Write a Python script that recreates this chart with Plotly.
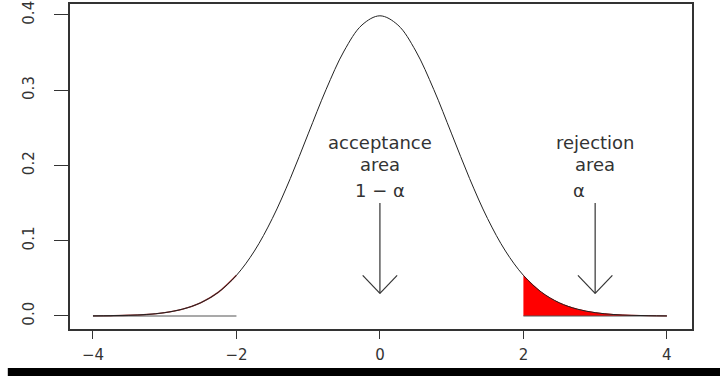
import plotly.graph_objects as go

# standard normal density at 0.25 steps
x_vals = [-4.0, -3.75, -3.5, -3.25, -3.0, -2.75, -2.5, -2.25, -2.0, -1.75, -1.5, -1.25, -1.0,
          -0.75, -0.5, -0.25, 0.0, 0.25, 0.5, 0.75, 1.0, 1.25, 1.5, 1.75, 2.0, 2.25, 2.5,
          2.75, 3.0, 3.25, 3.5, 3.75, 4.0]
density = [0.0001, 0.0004, 0.0009, 0.002, 0.0044, 0.0091, 0.0175, 0.0317, 0.054, 0.0863,
           0.1295, 0.1826, 0.242, 0.3011, 0.3521, 0.3867, 0.3989, 0.3867, 0.3521, 0.3011,
           0.242, 0.1826, 0.1295, 0.0863, 0.054, 0.0317, 0.0175, 0.0091, 0.0044, 0.002,
           0.0009, 0.0004, 0.0001]

x_ticks = [-4, -2, 0, 2, 4]
y_ticks = [0.0, 0.1, 0.2, 0.3, 0.4]
y_tick_text = ["0.0", "0.1", "0.2", "0.3", "0.4"]

crit = 2.0
tail_x = [x for x in x_vals if x >= crit]
tail_y = [d for x, d in zip(x_vals, density) if x >= crit]
low_x = [x for x in x_vals if x <= -crit]
low_y = [d for x, d in zip(x_vals, density) if x <= -crit]

fig = go.Figure()

# rejection area (upper tail)
fig.add_trace(go.Scatter(x=tail_x, y=tail_y, mode='lines', fill='tozeroy',
                         fillcolor='#ff0000', line=dict(color='#ff0000', width=1, shape='spline'),
                         hoverinfo='skip'))
# lower tail outline, faint red
fig.add_trace(go.Scatter(x=low_x, y=low_y, mode='lines',
                         line=dict(color='#a03030', width=1.4, shape='spline'), hoverinfo='skip'))
# baselines under the tails
fig.add_trace(go.Scatter(x=[low_x[0], low_x[-1]], y=[0, 0], mode='lines',
                         line=dict(color='#555555', width=1.2), hoverinfo='skip'))
fig.add_trace(go.Scatter(x=[tail_x[0], tail_x[-1]], y=[0, 0], mode='lines',
                         line=dict(color='#555555', width=1.2), hoverinfo='skip'))
# density curve
fig.add_trace(go.Scatter(x=x_vals, y=density, mode='lines',
                         line=dict(color='#222222', width=1, shape='spline'), hoverinfo='skip'))

# open-V arrows like R's arrows()
def arrow(x, top, tip, dx=0.24, dy=0.024):
    s = dict(type='line', xref='x', yref='y', line=dict(color='#333333', width=1.2))
    return [dict(s, x0=x, y0=top, x1=x, y1=tip),
            dict(s, x0=x, y0=tip, x1=x - dx, y1=tip + dy),
            dict(s, x0=x, y0=tip, x1=x + dx, y1=tip + dy)]

shapes = arrow(0, 0.15, 0.03) + arrow(3, 0.15, 0.03)
# black strip at the bottom of the picture
shapes.append(dict(type='rect', xref='paper', yref='paper', x0=-0.1, x1=1.06,
                   y0=-0.16, y1=-0.12, fillcolor='black', line=dict(width=0)))

font = dict(family='DejaVu Sans', size=18, color='#333333')
notes = [
    (0, 0.231, 'acceptance'), (0, 0.2007, 'area'), (0, 0.167, '1 \u2212 \u03b1'),
    (3, 0.231, 'rejection'), (3, 0.2007, 'area'), (2.77, 0.167, '\u03b1'),
]
annotations = [dict(x=x, y=y, text=t, showarrow=False, font=font, xanchor='center', yanchor='middle')
               for x, y, t in notes]

fig.update_layout(
    width=720, height=376,
    margin=dict(l=70, r=28, t=4, b=47, autoexpand=False),
    paper_bgcolor='white', plot_bgcolor='white',
    showlegend=False,
    shapes=shapes, annotations=annotations,
    xaxis=dict(range=[-4.32, 4.35], tickvals=x_ticks, ticks='outside', ticklen=8,
               tickcolor='#333333', showgrid=False, zeroline=False, showline=True,
               linecolor='#333333', linewidth=1.5, mirror=True, ticklabelstandoff=3,
               automargin=False,
               tickfont=dict(family='DejaVu Sans', size=15, color='#333333')),
    yaxis=dict(range=[-0.0173, 0.4146], tickvals=y_ticks, ticktext=y_tick_text,
               ticks='outside', ticklen=14, tickcolor='#333333', tickangle=-90,
               showgrid=False, zeroline=False, showline=True, linecolor='#333333',
               linewidth=1.5, mirror=True, ticklabelstandoff=14, automargin=False,
               tickfont=dict(family='DejaVu Sans', size=15, color='#333333')),
)

# drop the browser's default body margin so the figure sits at the page corner
fig.write_html("out.html", config={'displayModeBar': False},
               post_script="document.body.style.margin='0';")
